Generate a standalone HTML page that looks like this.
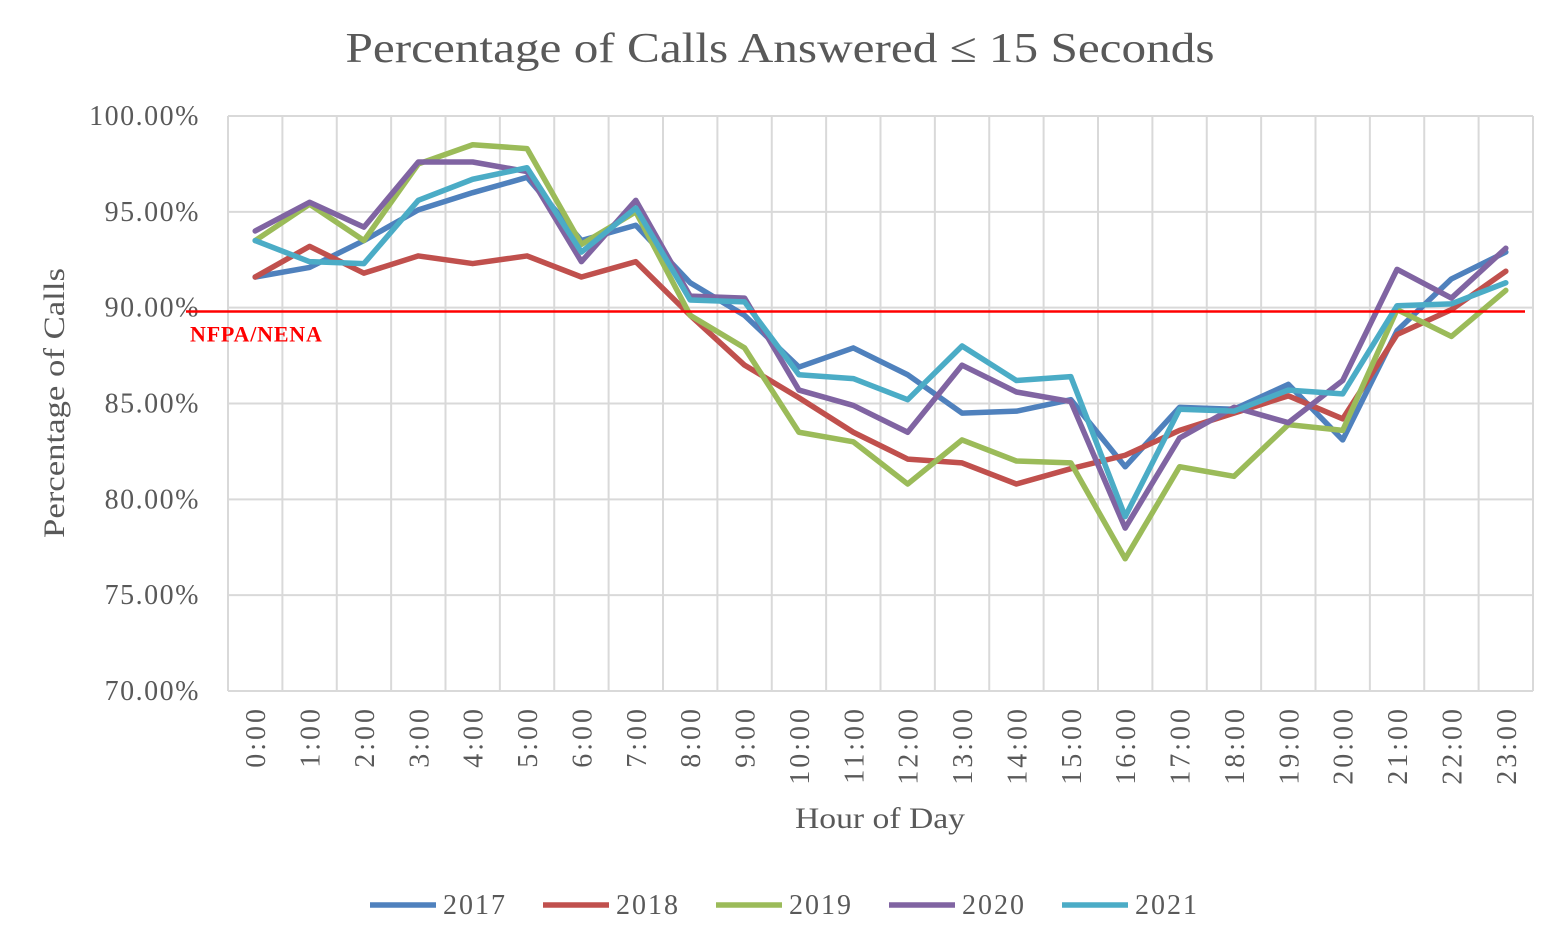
<!DOCTYPE html>
<html><head><meta charset="utf-8"><style>
body{margin:0;background:#fff;}
svg{display:block;font-family:"Liberation Serif",serif;}
</style></head><body>
<svg id="chart" width="1564" height="950">
<text x="780" y="62" text-anchor="middle" font-size="42" fill="#595959" textLength="869" lengthAdjust="spacingAndGlyphs">Percentage of Calls Answered ≤ 15 Seconds</text>
<g id="grid"></g><g id="series"></g>
<text transform="translate(64,403) rotate(-90)" text-anchor="middle" font-size="30" fill="#595959" textLength="270" lengthAdjust="spacingAndGlyphs">Percentage of Calls</text>
<text x="880" y="828" text-anchor="middle" font-size="30" fill="#595959" textLength="170" lengthAdjust="spacingAndGlyphs">Hour of Day</text>
<g id="legend"></g>
</svg>
<script>
const hours=["0:00","1:00","2:00","3:00","4:00","5:00","6:00","7:00","8:00","9:00","10:00","11:00","12:00","13:00","14:00","15:00","16:00","17:00","18:00","19:00","20:00","21:00","22:00","23:00"];
const yTicks=[70,75,80,85,90,95,100];
const years=["2017","2018","2019","2020","2021"];
const colors=["#4f81bd","#c0504d","#9bbb59","#8064a2","#4bacc6"];
const s2017=[91.6,92.1,93.5,95.1,96.0,96.8,93.5,94.3,91.3,89.6,86.9,87.9,86.5,84.5,84.6,85.2,81.7,84.8,84.7,86.0,83.1,88.8,91.5,92.9];
const s2018=[91.6,93.2,91.8,92.7,92.3,92.7,91.6,92.4,89.6,87.0,85.3,83.5,82.1,81.9,80.8,81.6,82.3,83.6,84.5,85.4,84.2,88.6,89.9,91.9];
const s2019=[93.5,95.4,93.5,97.5,98.5,98.3,93.3,95.0,89.6,87.9,83.5,83.0,80.8,83.1,82.0,81.9,76.9,81.7,81.2,83.9,83.6,89.9,88.5,90.9];
const s2020=[94.0,95.5,94.2,97.6,97.6,97.1,92.4,95.6,90.6,90.5,85.7,84.9,83.5,87.0,85.6,85.1,78.5,83.2,84.8,84.0,86.2,92.0,90.5,93.1];
const s2021=[93.5,92.4,92.3,95.6,96.7,97.3,92.9,95.2,90.4,90.3,86.5,86.3,85.2,88.0,86.2,86.4,79.1,84.7,84.6,85.7,85.5,90.1,90.2,91.3];
const seriesData=[s2017,s2018,s2019,s2020,s2021];
const threshold=89.8;
const L=228,R=1533,T=116,B=691,NS="http://www.w3.org/2000/svg";
const bw=(R-L)/hours.length;
const x=i=>L+bw*(i+0.5);
const y=v=>B-(v-70)/30*(B-T);
function mk(t,a,p){const e=document.createElementNS(NS,t);for(const k in a)e.setAttribute(k,a[k]);p.appendChild(e);return e;}
const g=document.getElementById('grid');
yTicks.forEach(v=>{
 const l=mk('line',{x1:L,x2:R,y1:y(v),y2:y(v),stroke:'#d9d9d9','stroke-width':2},g);
 
 
 const t=mk('text',{x:200,y:y(v)+9,'text-anchor':'end','font-size':28,'letter-spacing':1.5,fill:'#595959'},g);
 t.textContent=v.toFixed(2)+'%';
 
 
});
for(let i=0;i<=hours.length;i++){
 const l=mk('line',{x1:L+bw*i,x2:L+bw*i,y1:T,y2:B,stroke:'#d9d9d9','stroke-width':2},g);
 
 
}
hours.forEach((h,i)=>{
 const t=mk('text',{transform:`translate(${x(i)+10},706) rotate(-90)`,'text-anchor':'end','font-size':28,'letter-spacing':3,fill:'#595959'},g);
 t.textContent=h;
 
 
});
const sg=document.getElementById('series');
seriesData.forEach((d,k)=>{
 const p=mk('polyline',{points:d.map((v,i)=>x(i)+','+y(v)).join(' '),fill:'none',stroke:colors[k],'stroke-width':5.5,'stroke-linejoin':'round','stroke-linecap':'round'},sg);
 
 
});
const th=mk('line',{x1:186,x2:1525,y1:y(threshold),y2:y(threshold),stroke:'#ff0000','stroke-width':2.5},sg);


const tl=mk('text',{x:190,y:y(threshold)+30,'font-size':22,'font-weight':'bold','letter-spacing':0.8,fill:'#ff0000'},sg);
tl.textContent='NFPA/NENA';


const lg=document.getElementById('legend');
const lx=[370,543,716,889,1062];
years.forEach((yr,k)=>{
 const l=mk('line',{x1:lx[k],x2:lx[k]+66,y1:905,y2:905,stroke:colors[k],'stroke-width':5.5},lg);
 
 
 const t=mk('text',{x:lx[k]+73,y:914,'font-size':28,'letter-spacing':2,fill:'#595959'},lg);
 t.textContent=yr;
 
 
});
</script>
</body></html>
